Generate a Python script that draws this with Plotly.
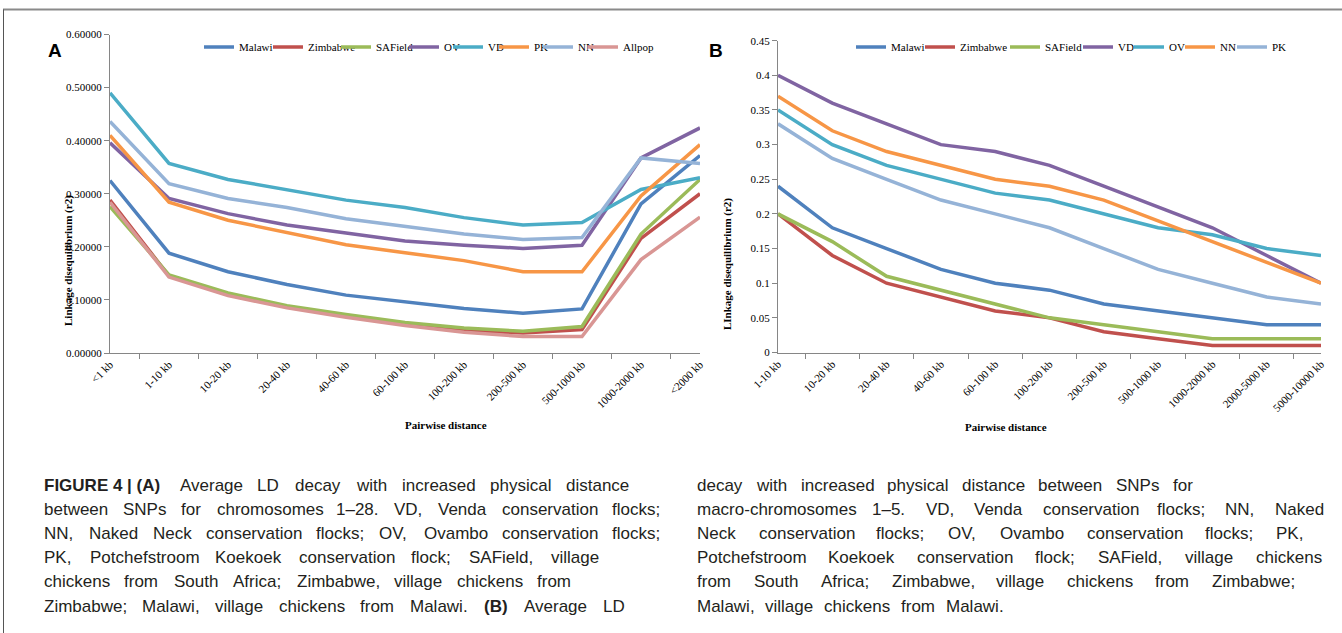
import plotly.graph_objects as go

# ---------------- Data: panel A (chromosomes 1-28) ----------------
cats_a = ["<1 kb", "1-10 kb", "10-20 kb", "20-40 kb", "40-60 kb", "60-100 kb",
          "100-200 kb", "200-500 kb", "500-1000 kb", "1000-2000 kb", "<2000 kb"]
a_malawi = [0.325, 0.188, 0.153, 0.129, 0.109, 0.096, 0.084, 0.075, 0.083, 0.281, 0.372]
a_zimbabwe = [0.288, 0.145, 0.110, 0.087, 0.070, 0.055, 0.043, 0.0375, 0.044, 0.216, 0.300]
a_safield = [0.276, 0.147, 0.113, 0.089, 0.0725, 0.0575, 0.047, 0.041, 0.050, 0.224, 0.327]
a_ov = [0.396, 0.291, 0.2625, 0.241, 0.226, 0.211, 0.203, 0.197, 0.203, 0.3675, 0.424]
a_vd = [0.490, 0.357, 0.327, 0.308, 0.288, 0.274, 0.255, 0.241, 0.246, 0.308, 0.330]
a_pk = [0.410, 0.284, 0.250, 0.227, 0.204, 0.189, 0.174, 0.153, 0.153, 0.296, 0.3925]
a_nn = [0.436, 0.319, 0.291, 0.274, 0.253, 0.238, 0.224, 0.214, 0.2175, 0.3675, 0.357]
a_allpop = [0.284, 0.143, 0.108, 0.085, 0.0675, 0.052, 0.039, 0.031, 0.031, 0.176, 0.256]

# ---------------- Data: panel B (macro-chromosomes 1-5) ----------------
cats_b = ["1-10 kb", "10-20 kb", "20-40 kb", "40-60 kb", "60-100 kb", "100-200 kb",
          "200-500 kb", "500-1000 kb", "1000-2000 kb", "2000-5000 kb", "5000-10000 kb"]
b_malawi = [0.24, 0.18, 0.15, 0.12, 0.10, 0.09, 0.07, 0.06, 0.05, 0.04, 0.04]
b_zimbabwe = [0.20, 0.14, 0.10, 0.08, 0.06, 0.05, 0.03, 0.02, 0.01, 0.01, 0.01]
b_safield = [0.20, 0.16, 0.11, 0.09, 0.07, 0.05, 0.04, 0.03, 0.02, 0.02, 0.02]
b_vd = [0.40, 0.36, 0.33, 0.30, 0.29, 0.27, 0.24, 0.21, 0.18, 0.14, 0.10]
b_ov = [0.35, 0.30, 0.27, 0.25, 0.23, 0.22, 0.20, 0.18, 0.17, 0.15, 0.14]
b_nn = [0.37, 0.32, 0.29, 0.27, 0.25, 0.24, 0.22, 0.19, 0.16, 0.13, 0.10]
b_pk = [0.33, 0.28, 0.25, 0.22, 0.20, 0.18, 0.15, 0.12, 0.10, 0.08, 0.07]

BLUE = "#4F81BD"
RED = "#C0504D"
GREEN = "#9BBB59"
PURPLE = "#8064A2"
TEAL = "#4BACC6"
ORANGE = "#F79646"
LIGHTBLUE = "#95B3D7"
PINK = "#D99694"

series_a = [("Malawi", a_malawi, BLUE), ("Zimbabwe", a_zimbabwe, RED),
            ("SAField", a_safield, GREEN), ("OV", a_ov, PURPLE), ("VD", a_vd, TEAL),
            ("PK", a_pk, ORANGE), ("NN", a_nn, LIGHTBLUE), ("Allpop", a_allpop, PINK)]
series_b = [("Malawi", b_malawi, BLUE), ("Zimbabwe", b_zimbabwe, RED),
            ("SAField", b_safield, GREEN), ("VD", b_vd, PURPLE), ("OV", b_ov, TEAL),
            ("NN", b_nn, ORANGE), ("PK", b_pk, LIGHTBLUE)]

# pixel x where each legend entry's text begins (layout only)
leg_text_a = [239, 308, 376, 444, 488, 534, 578, 623]
leg_text_b = [891, 960, 1045, 1118, 1169, 1220, 1272]

# caption lines ("_" joins a bold token) and the x where each line ends
cap_left = [
    "FIGURE_4_|_(A) Average LD decay with increased physical distance",
    "between SNPs for chromosomes 1–28. VD, Venda conservation flocks;",
    "NN, Naked Neck conservation flocks; OV, Ovambo conservation flocks;",
    "PK, Potchefstroom Koekoek conservation flock; SAField, village",
    "chickens from South Africa; Zimbabwe, village chickens from",
    "Zimbabwe; Malawi, village chickens from Malawi. (B) Average LD",
]
cap_left_end = [625, 656, 656, 595, 568, 622]
cap_right = [
    "decay with increased physical distance between SNPs for",
    "macro-chromosomes 1–5. VD, Venda conservation flocks; NN, Naked",
    "Neck conservation flocks; OV, Ovambo conservation flocks; PK,",
    "Potchefstroom Koekoek conservation flock; SAField, village chickens",
    "from South Africa; Zimbabwe, village chickens from Zimbabwe;",
    "Malawi, village chickens from Malawi.",
]
cap_right_end = [1190, 1320, 1300, 1318, 1290, 1000]
BOLD_TOKENS = {"FIGURE_4_|_(A)", "(B)"}

W, H = 1342, 633
SERIF = "Liberation Serif, Times New Roman, serif"
CAP = "Liberation Sans, Arial, sans-serif"
CAP_SIZE = 17

# approximate Arial advance widths (1/1000 em) used to space caption words
AW = {' ': 278, '(': 333, ')': 333, ',': 278, '-': 333, '.': 278, ';': 278, '|': 260,
      '–': 556, '_': 278}
for ch in "0123456789":
    AW[ch] = 556
AW.update(dict(A=667, B=667, C=722, D=722, E=667, F=611, G=778, H=722, I=278, J=500,
               K=667, L=556, M=833, N=722, O=778, P=667, Q=778, R=722, S=667, T=611,
               U=722, V=667, W=944, X=667, Y=667, Z=611))
AW.update(dict(a=556, b=556, c=500, d=556, e=556, f=278, g=556, h=556, i=222, j=222,
               k=500, l=222, m=833, n=556, o=556, p=556, q=556, r=333, s=500, t=278,
               u=556, v=500, w=722, x=500, y=500, z=500))


def text_w(s, bold=False):
    w = sum(AW.get(c, 556) for c in s) * CAP_SIZE / 1000.0 * 0.965
    return w * (1.07 if bold else 1.0)


def px(x):
    return x / W


def py(y):
    return (H - y) / H


fig = go.Figure()
legends = {}
k = 0
for (name, vals, col), tx in zip(series_a, leg_text_a):
    k += 1
    lname = "legend" if k == 1 else f"legend{k}"
    fig.add_trace(go.Scatter(x=cats_a, y=vals, name=name, mode="lines",
                             line=dict(color=col, width=3.5), xaxis="x", yaxis="y",
                             legend=lname))
    legends[lname] = tx
for (name, vals, col), tx in zip(series_b, leg_text_b):
    k += 1
    lname = f"legend{k}"
    fig.add_trace(go.Scatter(x=cats_b, y=vals, name=name, mode="lines",
                             line=dict(color=col, width=3.5), xaxis="x2", yaxis="y2",
                             legend=lname))
    legends[lname] = tx

axis_common = dict(showline=True, linecolor="#868686", linewidth=1, ticks="outside",
                   tickcolor="#868686", ticklen=5, showgrid=False, zeroline=False,
                   tickfont=dict(family=SERIF, size=11, color="#000"))

layout = dict(
    width=W, height=H, margin=dict(l=0, r=0, t=0, b=0, autoexpand=False),
    paper_bgcolor="white", plot_bgcolor="white",
    xaxis=dict(domain=[px(110), px(700)], anchor="y", tickangle=-45,
               tickson="boundaries", **axis_common),
    yaxis=dict(domain=[py(353), py(34.5)], anchor="x", range=[0, 0.6], dtick=0.1,
               tickformat=".5f", **axis_common),
    xaxis2=dict(domain=[px(778), px(1321)], anchor="y2", tickangle=-45,
                tickson="boundaries", **axis_common),
    yaxis2=dict(domain=[py(352.5), py(40.7)], anchor="x2", range=[0, 0.45], dtick=0.05,
                **axis_common),
    showlegend=True,
)
for lname, tx in legends.items():
    layout[lname] = dict(x=px(tx - 40), y=py(47), xanchor="left", yanchor="middle",
                         font=dict(family=SERIF, size=11, color="#000"),
                         bgcolor="rgba(0,0,0,0)", itemwidth=30, borderwidth=0)
fig.update_layout(**layout)

ann = []
ann.append(dict(text="<b>A</b>", x=px(46), y=py(38), xref="paper", yref="paper",
                showarrow=False, font=dict(family="Liberation Sans, Arial", size=19, color="#000")))
ann.append(dict(text="<b>B</b>", x=px(716), y=py(38), xref="paper", yref="paper",
                showarrow=False, font=dict(family="Liberation Sans, Arial", size=19, color="#000")))
ann.append(dict(text="<b>Linkage disequilibrium (r2)</b>", x=px(60), y=py(193), xref="paper",
                yref="paper", showarrow=False, textangle=-90,
                font=dict(family=SERIF, size=11, color="#000")))
ann.append(dict(text="<b>LInkage disequilibrium (r2)</b>", x=px(727), y=py(196), xref="paper",
                yref="paper", showarrow=False, textangle=-90,
                font=dict(family=SERIF, size=11, color="#000")))
ann.append(dict(text="<b>Pairwise distance</b>", x=px(403), y=py(433), xref="paper",
                yref="paper", showarrow=False, font=dict(family=SERIF, size=11, color="#000")))
ann.append(dict(text="<b>Pairwise distance</b>", x=px(1049), y=py(435), xref="paper",
                yref="paper", showarrow=False, font=dict(family=SERIF, size=11, color="#000")))


def add_caption(lines, ends, x0):
    for i, (line, xend) in enumerate(zip(lines, ends)):
        yy = py(485 + 24.2 * i)
        words = line.split(" ")
        bolds = [w in BOLD_TOKENS for w in words]
        widths = [text_w(w, b) for w, b in zip(words, bolds)]
        gap = max((xend - x0 - sum(widths)) / (len(words) - 1), text_w(" "))
        x = x0
        for w, b, wd in zip(words, bolds, widths):
            label = w.replace("_", " ")
            if b:
                label = "<b>" + label + "</b>"
            ann.append(dict(text=label, x=px(x), y=yy, xref="paper", yref="paper",
                            xanchor="left", yanchor="middle", showarrow=False,
                            font=dict(family=CAP, size=CAP_SIZE, color="#231f20")))
            x += wd + gap


add_caption(cap_left, cap_left_end, 42)
add_caption(cap_right, cap_right_end, 695)
fig.update_layout(annotations=ann)

fig.add_shape(type="line", xref="paper", yref="paper", x0=px(3), x1=1, y0=py(9.5), y1=py(9.5),
              line=dict(color="#8a8a8a", width=2))
fig.add_shape(type="line", xref="paper", yref="paper", x0=px(3.5), x1=px(3.5), y0=py(9.5), y1=0,
              line=dict(color="#555", width=1))

fig.write_html("out.html", config={"displayModeBar": False},
               post_script="document.body.style.margin='0';"
                           "document.body.style.overflow='hidden';")
